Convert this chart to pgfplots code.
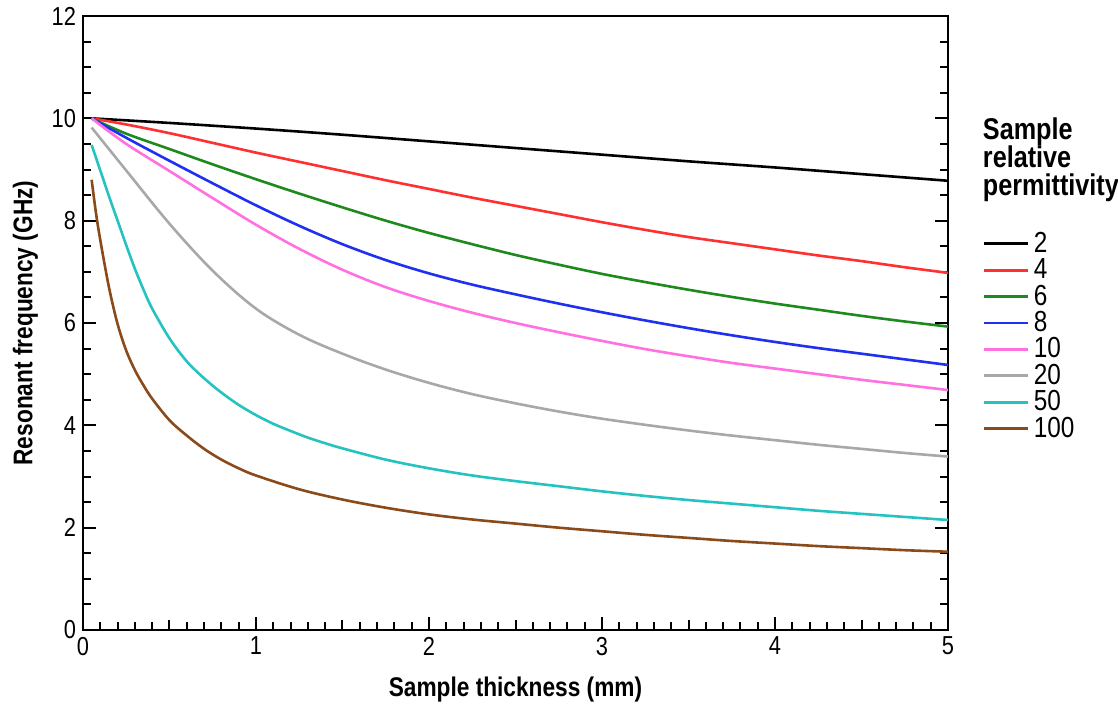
\documentclass[border=0pt]{standalone}
\usepackage{fontspec}
\setmainfont{Liberation Sans}[FakeStretch=0.84]
\usepackage{pgfplots}
\pgfplotsset{compat=1.18}
\definecolor{cRed}{HTML}{FF3030}
\definecolor{cGreen}{HTML}{1E8A1E}
\definecolor{cBlue}{HTML}{2030F0}
\definecolor{cPink}{HTML}{FF70E0}
\definecolor{cGray}{HTML}{A8A8A8}
\definecolor{cCyan}{HTML}{25C2C2}
\definecolor{cBrown}{HTML}{8A4A1A}
\begin{document}
\begin{tikzpicture}
\useasboundingbox (-41.5pt,-39.5pt) rectangle (517.5pt,315pt);
\begin{axis}[
  at={(0,0)}, anchor=south west,
  scale only axis, width=432.5pt, height=307pt,
  xmin=0, xmax=5, ymin=0, ymax=12,
  clip mode=individual,
  xtick={0,1,2,3,4,5}, ytick={0,2,4,6,8,10,12},
  minor x tick num=9, minor y tick num=3,
  extra x ticks={0.5,1.5,2.5,3.5,4.5}, extra x tick labels={},
  extra x tick style={major tick length=5pt},
  xtick pos=bottom, ytick pos=both,
  tick align=inside,
  major tick length=6.5pt, minor tick length=3.8pt,
  every tick/.style={black, line width=1pt},
  axis line style={line width=1.2pt},
  /pgf/number format/assume math mode=true,
  tick label style={font=\fontsize{13}{13}\selectfont},
  xlabel={\textbf{Sample thickness (mm)}},
  ylabel={\textbf{Resonant frequency (GHz)}},
  label style={font=\fontsize{13.5}{14}\selectfont},
  xlabel style={yshift=-4pt},
  legend style={draw=none, fill=none, at={(1.04,0.655)}, anchor=north west,
    font=\fontsize{14.5}{14.5}\selectfont, row sep=-2.4pt, inner sep=0pt,
    legend cell align=left},
  legend image code/.code={\draw[#1, line width=1.4pt] (1pt,0pt) -- (23pt,0pt);},
  every axis plot/.append style={line width=1.3pt, smooth, tension=0.55, no marks},
]
\addplot[black] coordinates {(0.05,10.0) (0.5,9.91) (1.0,9.80) (1.5,9.68) (2.0,9.55) (2.5,9.42) (3.0,9.29) (3.5,9.16) (4.0,9.04) (4.5,8.91) (5.0,8.78)};
\addlegendentry{2}
\addplot[cRed] coordinates {(0.05,10.0) (0.25,9.88) (0.5,9.71) (0.75,9.52) (1.0,9.33) (1.25,9.15) (1.5,8.97) (1.75,8.79) (2.0,8.62) (2.25,8.45) (2.5,8.29) (2.75,8.13) (3.0,7.97) (3.25,7.82) (3.5,7.68) (3.75,7.56) (4.0,7.44) (4.25,7.32) (4.5,7.21) (4.75,7.09) (5.0,6.98)};
\addlegendentry{4}
\addplot[cGreen] coordinates {(0.05,10.0) (0.25,9.70) (0.5,9.40) (0.75,9.10) (1.0,8.81) (1.25,8.53) (1.5,8.26) (1.75,8.00) (2.0,7.76) (2.25,7.54) (2.5,7.33) (2.75,7.14) (3.0,6.96) (3.25,6.80) (3.5,6.65) (3.75,6.51) (4.0,6.38) (4.25,6.26) (4.5,6.14) (4.75,6.03) (5.0,5.93)};
\addlegendentry{6}
\addplot[cBlue] coordinates {(0.05,10.0) (0.25,9.62) (0.5,9.17) (0.75,8.73) (1.0,8.30) (1.25,7.90) (1.5,7.54) (1.75,7.23) (2.0,6.97) (2.25,6.75) (2.5,6.56) (2.75,6.38) (3.0,6.21) (3.25,6.05) (3.5,5.90) (3.75,5.76) (4.0,5.63) (4.25,5.51) (4.5,5.40) (4.75,5.29) (5.0,5.18)};
\addlegendentry{8}
\addplot[cPink] coordinates {(0.05,10.0) (0.25,9.50) (0.5,8.97) (0.75,8.44) (1.0,7.92) (1.25,7.45) (1.5,7.04) (1.75,6.70) (2.0,6.43) (2.25,6.20) (2.5,6.00) (2.75,5.82) (3.0,5.65) (3.25,5.49) (3.5,5.35) (3.75,5.22) (4.0,5.11) (4.25,5.00) (4.5,4.89) (4.75,4.79) (5.0,4.69)};
\addlegendentry{10}
\addplot[cGray] coordinates {(0.05,9.82) (0.25,8.98) (0.5,7.94) (0.75,7.02) (1.0,6.28) (1.25,5.77) (1.5,5.40) (1.75,5.09) (2.0,4.83) (2.25,4.61) (2.5,4.43) (2.75,4.27) (3.0,4.13) (3.25,4.01) (3.5,3.90) (3.75,3.80) (4.0,3.71) (4.25,3.62) (4.5,3.54) (4.75,3.46) (5.0,3.39)};
\addlegendentry{20}
\addplot[cCyan] coordinates {(0.05,9.48) (0.1,8.98) (0.15,8.48) (0.2,8.0) (0.25,7.52) (0.3,7.06) (0.35,6.65) (0.4,6.28) (0.5,5.70) (0.6,5.25) (0.7,4.92) (0.8,4.64) (0.9,4.40) (1.0,4.20) (1.1,4.03) (1.2,3.89) (1.3,3.76) (1.4,3.65) (1.5,3.55) (1.75,3.33) (2.0,3.16) (2.25,3.02) (2.5,2.91) (2.75,2.81) (3.0,2.71) (3.25,2.62) (3.5,2.54) (3.75,2.47) (4.0,2.40) (4.25,2.33) (4.5,2.27) (4.75,2.21) (5.0,2.15)};
\addlegendentry{50}
\addplot[cBrown] coordinates {(0.05,8.80) (0.075,8.15) (0.1,7.62) (0.15,6.70) (0.2,5.98) (0.25,5.46) (0.3,5.08) (0.35,4.78) (0.4,4.52) (0.5,4.10) (0.6,3.80) (0.7,3.54) (0.8,3.33) (0.9,3.16) (1.0,3.02) (1.25,2.75) (1.5,2.55) (1.75,2.39) (2.0,2.26) (2.25,2.16) (2.5,2.08) (2.75,2.00) (3.0,1.93) (3.25,1.86) (3.5,1.80) (3.75,1.74) (4.0,1.69) (4.25,1.64) (4.5,1.60) (4.75,1.56) (5.0,1.53)};
\addlegendentry{100}
\node[anchor=north west, align=left, font=\bfseries\fontsize{15}{14}\selectfont, inner sep=0pt]
  at (rel axis cs:1.04,0.835) {Sample\\relative\\permittivity};
\end{axis}
\end{tikzpicture}
\end{document}
